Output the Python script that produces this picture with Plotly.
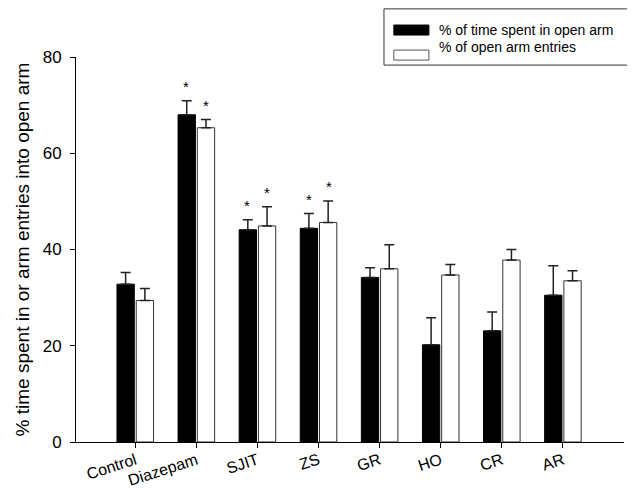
import plotly.graph_objects as go

categories = ["Control", "Diazepam", "SJIT", "ZS", "GR", "HO", "CR", "AR"]
time_open = [32.8, 68.0, 44.1, 44.4, 34.2, 20.2, 23.1, 30.5]
time_open_err = [2.4, 2.9, 2.1, 3.1, 2.0, 5.6, 3.9, 6.1]
entries_open = [29.4, 65.3, 44.9, 45.6, 36.0, 34.7, 37.8, 33.5]
entries_open_err = [2.5, 1.7, 4.0, 4.5, 5.0, 2.2, 2.2, 2.1]
time_sig = [False, True, True, True, False, False, False, False]
entries_sig = [False, True, True, True, False, False, False, False]
y_ticks = [0, 20, 40, 60, 80]

series1_name = "% of time spent in open arm"
series2_name = "% of open arm entries"

FONT = "Liberation Sans, Arial, Helvetica, sans-serif"

fig = go.Figure()
fig.add_trace(go.Bar(
    name=series1_name, x=categories, y=time_open,
    marker=dict(color="black", line=dict(color="black", width=1)),
    error_y=dict(type="data", symmetric=False, array=time_open_err,
                 arrayminus=[0] * len(time_open_err),
                 color="#222", thickness=1.5, width=5),
    showlegend=False,
))
fig.add_trace(go.Bar(
    name=series2_name, x=categories, y=entries_open,
    marker=dict(color="white", line=dict(color="#333", width=1)),
    error_y=dict(type="data", symmetric=False, array=entries_open_err,
                 arrayminus=[0] * len(entries_open_err),
                 color="#222", thickness=1.5, width=5),
    showlegend=False,
))

annotations = []
for i, c in enumerate(categories):
    if time_sig[i]:
        annotations.append(dict(x=c, y=time_open[i] + time_open_err[i], xref="x", yref="y",
                                text="*", showarrow=False, xshift=-10, yshift=14,
                                font=dict(family=FONT, size=15, color="black")))
    if entries_sig[i]:
        annotations.append(dict(x=c, y=entries_open[i] + entries_open_err[i], xref="x", yref="y",
                                text="*", showarrow=False, xshift=10, yshift=14,
                                font=dict(family=FONT, size=15, color="black")))

# custom legend
shapes = [
    dict(type="rect", xref="paper", yref="paper", x0=0.562, x1=1.03, y0=0.979, y1=1.125,
         line=dict(color="#333", width=1), fillcolor="white", layer="below"),
    dict(type="rect", xref="paper", yref="paper", x0=0.580, x1=0.644, y0=1.057, y1=1.083,
         line=dict(color="black", width=1), fillcolor="black"),
    dict(type="rect", xref="paper", yref="paper", x0=0.580, x1=0.644, y0=0.992, y1=1.018,
         line=dict(color="#555", width=1), fillcolor="white"),
]
annotations.append(dict(x=0.658, y=1.070, xref="paper", yref="paper", xanchor="left",
                        yanchor="middle", text=series1_name, showarrow=False,
                        font=dict(family=FONT, size=14, color="black")))
annotations.append(dict(x=0.658, y=1.026, xref="paper", yref="paper", xanchor="left",
                        yanchor="middle", text=series2_name, showarrow=False,
                        font=dict(family=FONT, size=14, color="black")))

fig.update_layout(
    width=627, height=483,
    margin=dict(l=68, r=11, t=49, b=49),
    paper_bgcolor="white", plot_bgcolor="white",
    barmode="group", bargap=0.37, bargroupgap=0.1,
    font=dict(family=FONT, color="black"),
    shapes=shapes, annotations=annotations,
    xaxis=dict(
        range=[-0.97, 8.0], showline=True, linecolor="black", linewidth=1,
        ticks="outside", ticklen=5, tickcolor="black", tickangle=-18,
        ticklabelstandoff=-3,
        tickfont=dict(size=16), showgrid=False, zeroline=False, automargin=False,
    ),
    yaxis=dict(
        range=[0, 80], tickvals=y_ticks, showline=True, linecolor="black", linewidth=1,
        ticks="outside", ticklen=5, tickcolor="black", ticklabelstandoff=5,
        tickfont=dict(size=17), showgrid=False, zeroline=False, automargin=False,
        title=dict(text="% time spent in or arm entries into open arm",
                   font=dict(size=19), standoff=8),
    ),
)

fig.write_html("out.html")
